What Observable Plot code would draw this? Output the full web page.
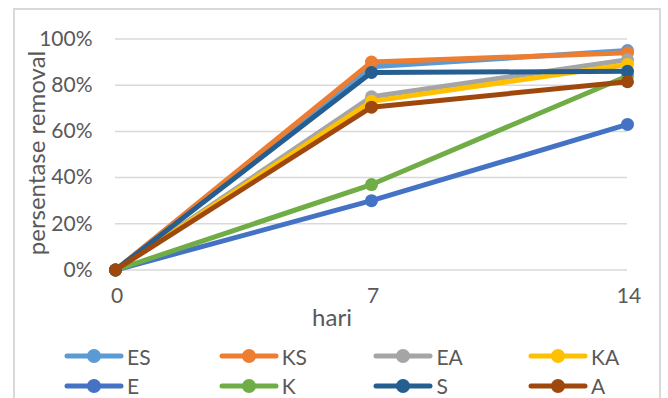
<!DOCTYPE html>
<html>
<head>
<meta charset="utf-8">
<script src="https://cdn.jsdelivr.net/npm/d3@7"></script>
<script src="https://cdn.jsdelivr.net/npm/@observablehq/plot@0.6"></script>
<style>
  html, body { margin: 0; padding: 0; background: #fff; }
  body { width: 668px; height: 398px; overflow: hidden; position: relative; font-family: Lato, "Noto Sans", sans-serif; }
  #frame { position: absolute; left: 13px; top: 8px; width: 648px; height: 400px; border: 2px solid #D9D9D9; box-sizing: border-box; }
  #chart { position: absolute; left: 0; top: 0; }
  #xlabel { position: absolute; top: 302px; left: 332px; transform: translateX(-50%); font-size: 24px; line-height: 30px; color: #595959; }
  #ylabel { position: absolute; left: 36px; top: 153px; transform: translate(-50%, -50%) rotate(-90deg); font-size: 24px; line-height: 24px; white-space: nowrap; color: #595959; }
  .legend-item { position: absolute; display: flex; align-items: center; font-size: 21px; color: #595959; }
  .legend-item svg { display: block; margin-right: 3px; }
</style>
</head>
<body>
<div id="frame"></div>
<div id="chart"></div>
<div id="ylabel">persentase removal</div>
<div id="xlabel">hari</div>
<div id="legend"></div>
<script>
// days of measurement
const hari = [0, 7, 14];

// removal fraction per treatment
const ES = [0, 0.88, 0.95];
const KS = [0, 0.90, 0.94];
const EA = [0, 0.75, 0.91];
const KA = [0, 0.73, 0.89];
const E  = [0, 0.30, 0.63];
const K  = [0, 0.37, 0.84];
const S  = [0, 0.855, 0.86];
const A  = [0, 0.705, 0.815];

const seriesNames = ["ES", "KS", "EA", "KA", "E", "K", "S", "A"];
const seriesValues = [ES, KS, EA, KA, E, K, S, A];
const colors = ["#5B9BD5", "#ED7D31", "#A5A5A5", "#FFC000", "#4472C4", "#70AD47", "#255E91", "#9E480E"];
const yTicks = [0, 0.2, 0.4, 0.6, 0.8, 1];

const rows = seriesNames.map((name, i) =>
  hari.map((h, j) => ({series: name, hari: h, value: seriesValues[i][j]}))
);

const font = "Lato, 'Noto Sans', sans-serif";

// one line + markers per series, drawn in series order so later ones sit on top
const seriesMarks = rows.flatMap(data => [
  Plot.line(data, {x: "hari", y: "value", stroke: "series", strokeWidth: 5, strokeLinejoin: "round", strokeLinecap: "round"}),
  Plot.dot(data, {x: "hari", y: "value", fill: "series", r: 6.5, stroke: "none"})
]);

const chart = Plot.plot({
  width: 668,
  height: 330,
  marginLeft: 115,
  marginRight: 41,
  marginTop: 38.5,
  marginBottom: 60.5,
  style: {fontFamily: font, fontSize: "21px", color: "#595959", background: "transparent"},
  x: {domain: [0, 14], ticks: hari},
  y: {domain: [0, 1]},
  color: {domain: seriesNames, range: colors},
  marks: [
    Plot.gridY(yTicks, {stroke: "#D9D9D9", strokeOpacity: 1, strokeWidth: 1.5}),
    Plot.axisY(yTicks, {
      tickSize: 0, tickPadding: 23, tickFormat: d => Math.round(d * 100) + "%",
      label: null, fill: "#595959", fontSize: 21
    }),
    Plot.axisX(hari, {tickSize: 0, tickPadding: 18, label: null, fill: "#595959", fontSize: 21, dx: 1.5}),
    ...seriesMarks
  ]
});
document.getElementById("chart").append(chart);

// legend: two rows of four entries
const legend = document.getElementById("legend");
seriesNames.forEach((name, i) => {
  const col = i % 4, row = Math.floor(i / 4);
  const item = document.createElement("div");
  item.className = "legend-item";
  item.style.left = (64 + col * 154.7) + "px";
  item.style.top = (343 + row * 29.5) + "px";
  item.innerHTML =
    `<svg width="60" height="26"><line x1="3" y1="13" x2="57" y2="13" stroke="${colors[i]}" stroke-width="5" stroke-linecap="round"/>` +
    `<circle cx="30" cy="13" r="7" fill="${colors[i]}"/></svg><span>${name}</span>`;
  legend.append(item);
});
</script>
</body>
</html>
